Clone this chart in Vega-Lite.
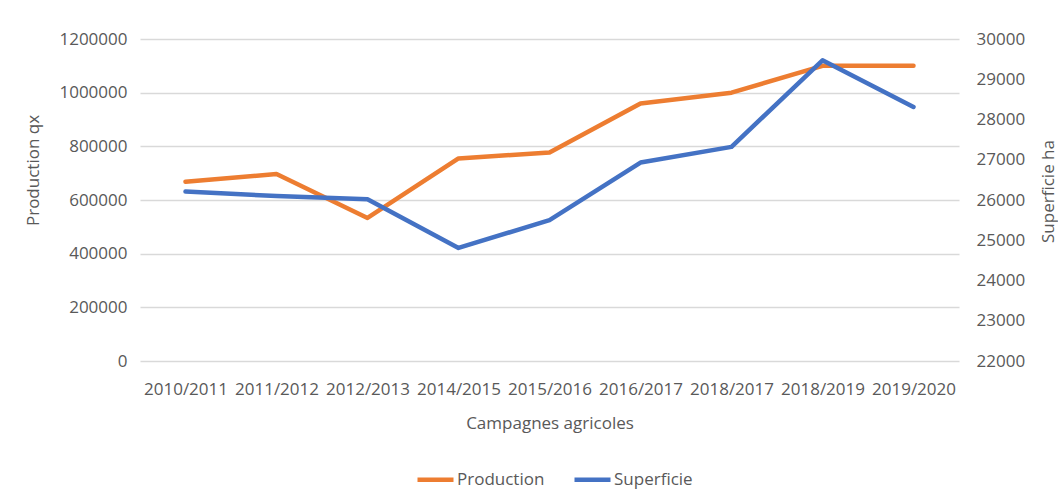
{
  "$schema": "https://vega.github.io/schema/vega-lite/v6.json",
  "width": 819,
  "height": 322,
  "autosize": {"type": "none"},
  "padding": {"left": 140, "top": 39, "right": 99, "bottom": 141},
  "background": "white",
  "config": {
    "view": {"stroke": null},
    "font": "Open Sans",
    "axis": {"labelFont": "Open Sans", "titleFont": "Open Sans", "labelFontSize": 17, "titleFontSize": 17, "labelColor": "#595959", "titleColor": "#595959", "titleFontWeight": "normal", "gridColor": "#d9d9d9", "gridWidth": 1.5, "domain": false, "ticks": false},
    "legend": {"labelFont": "Open Sans", "labelFontSize": 17, "labelColor": "#595959"}
  },
  "data": {
    "values": [
      {"campagne": "2010/2011", "production": 668000, "superficie": 26210},
      {"campagne": "2011/2012", "production": 697000, "superficie": 26100},
      {"campagne": "2012/2013", "production": 533000, "superficie": 26020},
      {"campagne": "2014/2015", "production": 755000, "superficie": 24810},
      {"campagne": "2015/2016", "production": 777000, "superficie": 25500},
      {"campagne": "2016/2017", "production": 960000, "superficie": 26930},
      {"campagne": "2018/2017", "production": 1000000, "superficie": 27320},
      {"campagne": "2018/2019", "production": 1100000, "superficie": 29470},
      {"campagne": "2019/2020", "production": 1100000, "superficie": 28310}
    ]
  },
  "encoding": {
    "x": {
      "field": "campagne",
      "type": "ordinal",
      "sort": null,
      "scale": {"type": "point", "padding": 0.5},
      "axis": {"title": "Campagnes agricoles", "labelAngle": 0, "labelPadding": 20, "grid": false, "titleY": 62, "titleBaseline": "middle", "titlePadding": 0}
    },
    "color": {
      "field": "serie",
      "type": "nominal",
      "scale": {"domain": ["Production", "Superficie"], "range": ["#ED7D31", "#4472C4"]},
      "legend": {"title": null, "orient": "none", "direction": "horizontal", "legendX": 275, "legendY": 420, "padding": 0, "symbolType": "stroke", "symbolSize": 1296, "symbolStrokeWidth": 4.5, "labelOffset": 1, "columnPadding": 20}
    }
  },
  "layer": [
    {
      "transform": [{"calculate": "'Production'", "as": "serie"}],
      "mark": {"type": "line", "strokeWidth": 4.5, "strokeCap": "round", "strokeJoin": "round"},
      "encoding": {
        "y": {
          "field": "production",
          "type": "quantitative",
          "scale": {"domain": [0, 1200000], "nice": false, "zero": false},
          "axis": {"title": "Production qx", "values": [0, 200000, 400000, 600000, 800000, 1000000, 1200000], "format": "d", "labelPadding": 13, "grid": true, "titleAngle": 270, "titleX": -107, "titleY": 131, "titleAlign": "center", "titleBaseline": "middle"}
        }
      }
    },
    {
      "transform": [{"calculate": "'Superficie'", "as": "serie"}],
      "mark": {"type": "line", "strokeWidth": 4.5, "strokeCap": "round", "strokeJoin": "round"},
      "encoding": {
        "y": {
          "field": "superficie",
          "type": "quantitative",
          "scale": {"domain": [22000, 30000], "nice": false, "zero": false},
          "axis": {"title": "Superficie ha", "orient": "right", "values": [22000, 23000, 24000, 25000, 26000, 27000, 28000, 29000, 30000], "format": "d", "labelPadding": 17, "grid": false, "titleAngle": 270, "titleX": 89, "titleY": 152, "titleAlign": "center", "titleBaseline": "middle"}
        }
      }
    }
  ],
  "resolve": {"scale": {"y": "independent"}}
}
